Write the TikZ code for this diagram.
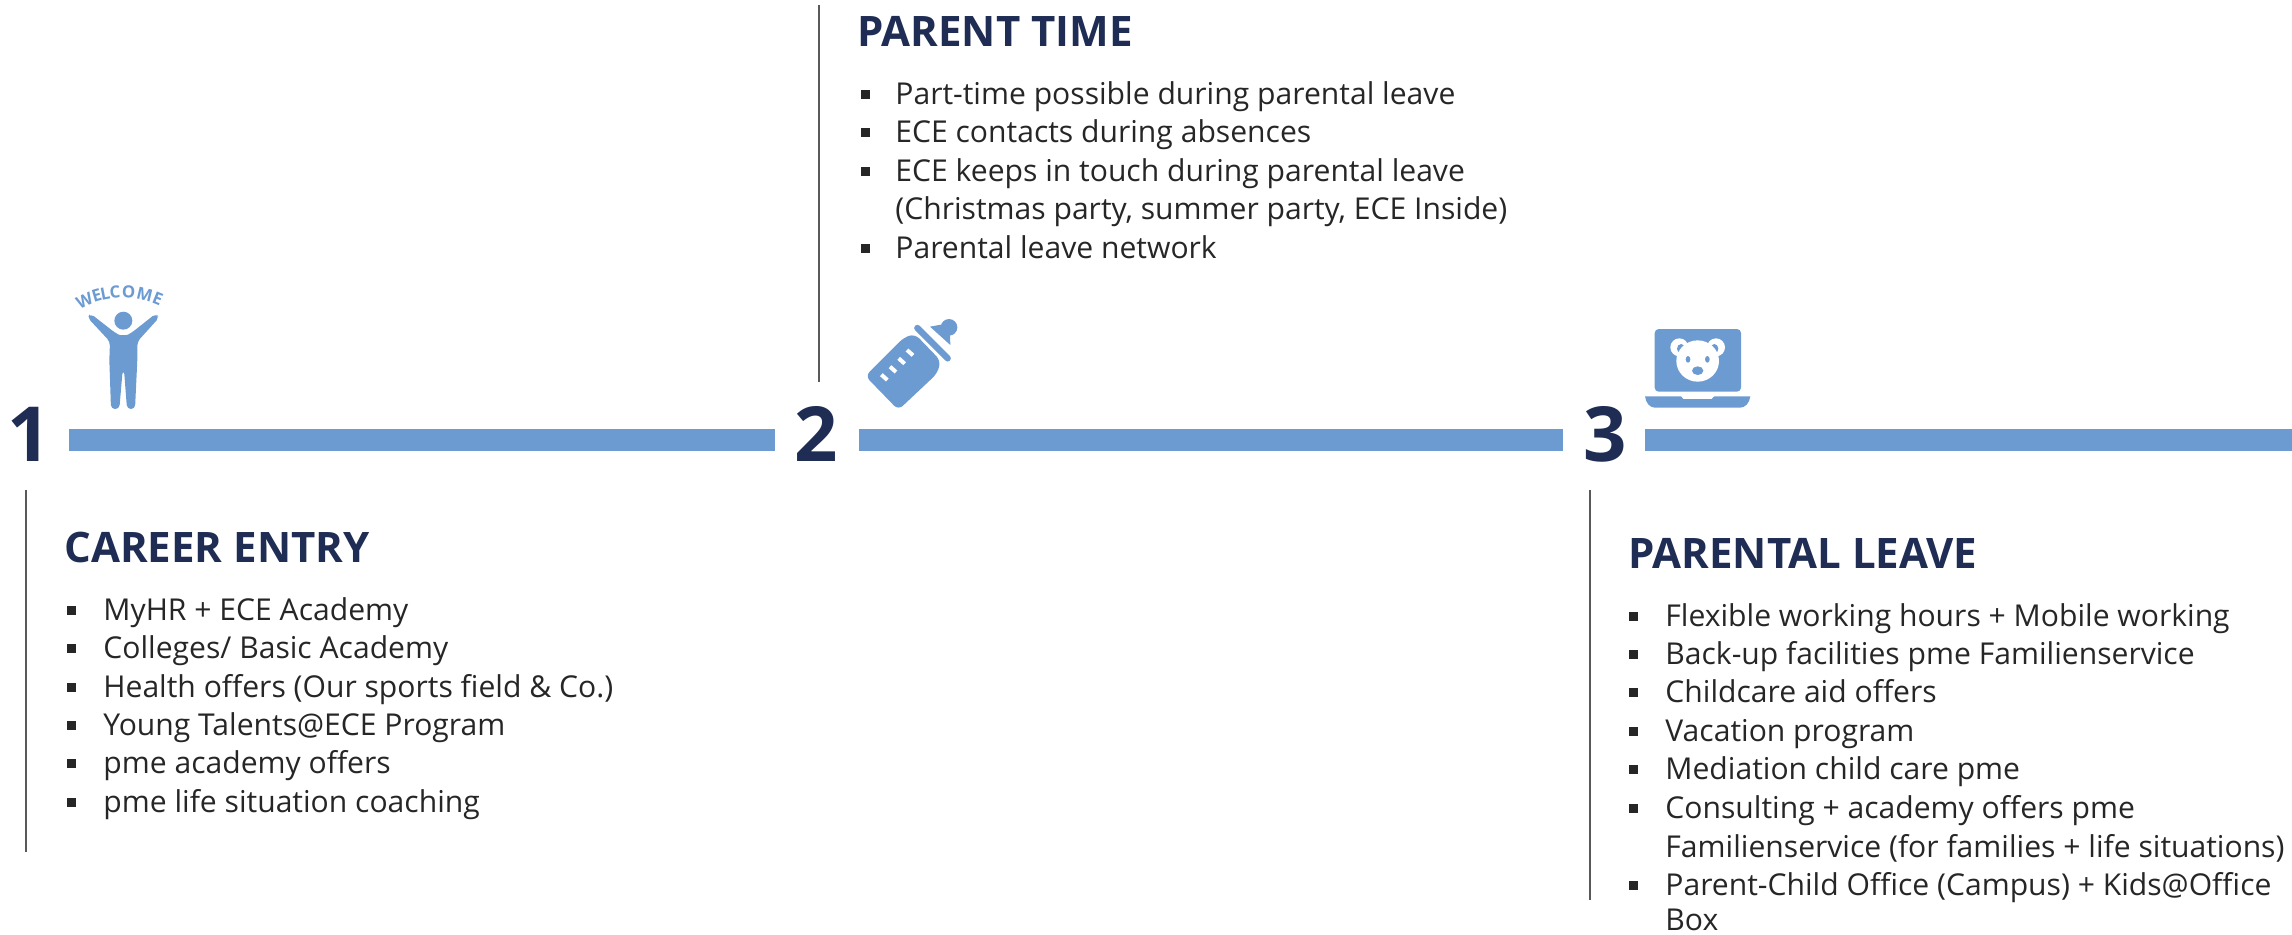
\documentclass[tikz,border=0pt]{standalone}
\usepackage{fontspec}
\setmainfont{Open Sans}
\definecolor{mynavy}{HTML}{1F2D54}
\definecolor{myblue}{HTML}{6C9BD2}
\definecolor{mytext}{HTML}{262626}
\definecolor{myline}{HTML}{595959}
\tikzset{
  bignum/.style={anchor=base, inner sep=0pt, text=mynavy, font=\fontsize{38}{38}\selectfont\bfseries},
  headline/.style={anchor=base west, inner sep=0pt, text=mynavy, font=\fontsize{21}{21}\selectfont\bfseries},
  itemtext/.style={anchor=base west, inner sep=0pt, text=mytext, font=\fontsize{15.05}{15.05}\selectfont},
  itembullet/.style={fill=mytext, inner sep=0pt, minimum size=4.5pt},
  bar/.style={fill=myblue, draw=none},
  divider/.style={draw=myline, line width=0.6pt},
  zoomed/.style={x=0.16667pt, y=-0.16667pt}
}
\begin{document}
\begin{tikzpicture}[x=0.5pt, y=-0.5pt]
    \useasboundingbox (0,0) rectangle (2292,934);
    % bars and numbers
    \foreach \i/\x/\xa/\xb in {1/29/69/775, 2/816/859/1563, 3/1605/1645/2292} {
      \fill[bar] (\xa,429) rectangle (\xb,451);
      \node[bignum] (num\i) at (\x,461) {\i};
    }
    \draw[divider] (26,490) -- (26,852);
    \draw[divider] (819,5) -- (819,382);
    \draw[divider] (1590,490) -- (1590,900);
    % career entry
    \node[headline] (career) at (64,562) {CAREER ENTRY};
    \foreach \i/\y/\t in {1/620/{MyHR + ECE Academy}, 2/658/{Colleges/ Basic Academy}, 3/697/{Health offers (Our sports field \& Co.)}, 4/735/{Young Talents@ECE Program}, 5/773/{pme academy offers}, 6/812/{pme life situation coaching}} {
      \node[itembullet] (careerb\i) at (71,\y-10) {};
      \node[itemtext] (careert\i) at (103,\y) {\t};
    }
    % parent time
    \node[headline] (parent) at (857,46) {PARENT TIME};
    \foreach \i/\y/\t in {1/104/{Part-time possible during parental leave}, 2/142/{ECE contacts during absences}, 3/181/{ECE keeps in touch during parental leave}, 5/258/{Parental leave network}} {
      \node[itembullet] (parentb\i) at (865,\y-10) {};
      \node[itemtext] (parentt\i) at (895,\y) {\t};
    }
    \node[itemtext] (parentt4) at (895,219) {(Christmas party, summer party, ECE Inside)};
    % parental leave
    \node[headline] (leave) at (1628,568) {PARENTAL LEAVE};
    \foreach \i/\y/\t in {1/626/{Flexible working hours + Mobile working}, 2/664/{Back-up facilities pme Familienservice}, 3/702/{Childcare aid offers}, 4/741/{Vacation program}, 5/779/{Mediation child care pme}, 6/818/{Consulting + academy offers pme}, 8/895/{Parent-Child Office (Campus) + Kids@Office}} {
      \node[itembullet] (leaveb\i) at (1633,\y-10) {};
      \node[itemtext] (leavet\i) at (1665,\y) {\t};
    }
    \node[itemtext] (leavet7) at (1665,857) {Familienservice (for families + life situations)};
    \node[itemtext] (leavet9) at (1665,930) {Box};
    % welcome icon
    \begin{scope}[shift={(0,260)}, zoomed]
      \fill[myblue] (370,182) circle (27);
      \fill[myblue, rounded corners=2pt] (262,172) -- (272,161) -- (345,218)
        .. controls (360,226) and (380,226) .. (395,218) -- (467,161) -- (478,172)
        -- (412,245) -- (412,300) -- (405,447) -- (381,447) -- (372,330) -- (368,330)
        -- (358,447) -- (333,447) -- (328,300) -- (330,245) -- cycle;
    \end{scope}
    \foreach \j/\l/\a in {1/W/-24.5, 2/E/-16.5, 3/L/-11, 4/C/-5, 5/O/3.5, 6/M/13.5, 7/E/22} {
      \node[inner sep=0pt, text=myblue, rotate=-\a, font=\fontsize{8.4}{8.4}\selectfont\bfseries] (welcome\j) at ({123+93*sin(\a)},{385-93*cos(\a)}) {\l};
    }
    % bottle icon
    \begin{scope}[shift={(780,290)}, zoomed]
      \fill[myblue, rounded corners=3pt] (256,258) -- (372,142) -- (405,132) -- (482,212) -- (472,250) -- (355,360) -- cycle;
      \draw[myblue, line width=3.2pt, line cap=round] (412,114) -- (503,205);
      \fill[myblue] (450,110) -- (482,104) -- (510,135) -- (511,165) -- cycle;
      \fill[myblue] (507,112) circle (25);
      \foreach \tx/\ty in {313/262, 339/238, 365/213, 390/188} {
        \draw[white, line width=2pt] (\tx-9,\ty-8) -- (\tx+9,\ty+8);
      }
    \end{scope}
    % laptop icon
    \begin{scope}[shift={(1580,300)}, zoomed]
      \fill[myblue, rounded corners=2pt] (224,87) rectangle (483,275);
      \fill[myblue] (195,289) -- (303,289) -- (310,297) -- (395,297) -- (403,289) -- (511,289)
        .. controls (508,310) and (495,323) .. (480,323) -- (225,323)
        .. controls (210,323) and (198,310) .. (195,289) -- cycle;
      \fill[white] (298,142) circle (27);
      \fill[white] (408,142) circle (27);
      \fill[myblue] (303,146) ellipse (12 and 14);
      \fill[myblue] (403,146) ellipse (12 and 14);
      \fill[white] (353,183) ellipse (64 and 62);
      \fill[myblue] (324,178) ellipse (7 and 10);
      \fill[myblue] (382,178) ellipse (7 and 10);
      \fill[myblue] (353,212) ellipse (17 and 13);
    \end{scope}
\end{tikzpicture}
\end{document}
